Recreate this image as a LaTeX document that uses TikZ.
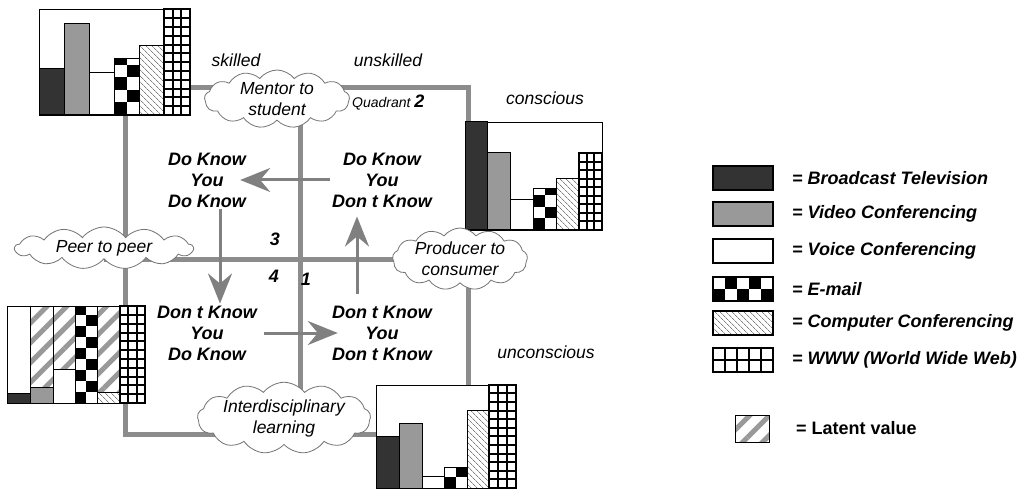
\documentclass[tikz,border=0pt]{standalone}
\usepackage{fontspec}
\setmainfont{Liberation Sans}
\usetikzlibrary{arrows.meta,shapes.symbols,patterns.meta,backgrounds}

\definecolor{axisgray}{gray}{0.55}
\definecolor{arrowgray}{gray}{0.5}
\definecolor{darkbar}{gray}{0.2}
\definecolor{midbar}{gray}{0.6}
\definecolor{cloudline}{gray}{0.45}

\newcommand{\quadfont}{\fontsize{18}{21}\selectfont\bfseries\itshape}
\newcommand{\labelfont}{\fontsize{17.5}{21}\selectfont\itshape}

\tikzset{
  axis/.style={line width=5pt, draw=axisgray},
  flow/.style={line width=3pt, draw=arrowgray, -{Stealth[length=30pt,width=24pt,inset=10pt,fill=arrowgray]}},
  bubble/.style={cloud, cloud puffs=13, cloud puff arc=105, cloud ignores aspect,
    draw=cloudline, fill=white, line width=0.8pt, inner sep=0pt, align=center, font=\labelfont},
  chartframe/.style n args={2}{draw, fill=white, line width=0.8pt, inner sep=0pt,
    minimum width=#1, minimum height=#2},
  bar/.style={draw=black, line width=1pt},
  quadtext/.style={align=center, inner sep=2pt, font=\quadfont},
  tag/.style={font=\labelfont, inner sep=1pt},
  legtext/.style={anchor=west, inner sep=0pt, font=\fontsize{18}{21}\selectfont\bfseries\itshape}
}

% bars: x1, y1 (top), x2, y2 (bottom)
\newcommand{\solidbar}[5]{\draw[bar, fill=#5] (#1,#2) rectangle (#3,#4);}
\newcommand{\hatchbar}[4]{%
  \fill[white] (#1,#2) rectangle (#3,#4);
  \fill[pattern={Lines[angle=-45,distance=4pt,line width=0.7pt]}, pattern color=gray] (#1,#2) rectangle (#3,#4);
  \draw[bar] (#1,#2) rectangle (#3,#4);}
\newcommand{\latentbar}[4]{%
  \fill[white] (#1,#2) rectangle (#3,#4);
  \fill[pattern={Lines[angle=45,distance=14pt,line width=5pt]}, pattern color=gray!80] (#1,#2) rectangle (#3,#4);
  \draw[bar] (#1,#2) rectangle (#3,#4);}
\newcommand{\checkbar}[5]{%
  \begin{scope}
    \clip (#1,#2) rectangle (#3,#4);
    \fill[white] (#1,#2) rectangle (#3,#4);
    \foreach \cc in {0,...,5}
      \foreach \rr in {0,...,12}{
        \pgfmathtruncatemacro\chk{mod(\cc+\rr,2)}
        \ifnum\chk=0
          \fill (#1+\cc*#5, #4-\rr*#5) rectangle ++(#5,-#5);
        \fi}
  \end{scope}
  \draw[bar] (#1,#2) rectangle (#3,#4);}
\newcommand{\gridbar}[6]{%
  \fill[white] (#1,#2) rectangle (#3,#4);
  \begin{scope}
    \clip (#1,#2) rectangle (#3,#4);
    \draw[line width=2pt, xstep=#5pt, ystep=#6pt, shift={(#1,#4)}] (0,0) grid (#3-#1, #2-#4);
  \end{scope}
  \draw[line width=1.5pt] (#1,#2) rectangle (#3,#4);}

\begin{document}
\begin{tikzpicture}[x=1pt, y=-1pt]
  \useasboundingbox (0,0) rectangle (1029,492);

  % rails
  \coordinate (westrail) at (125,0);
  \coordinate (eastrail) at (468,0);
  \coordinate (northrail) at (0,88);
  \coordinate (southrail) at (0,434);
  \coordinate (hub) at (300,259);

  % charts
  \node[chartframe={151pt}{106pt}] (chartTL) at (114.5,62) {};
  \solidbar{39}{69}{64}{115}{darkbar}
  \solidbar{64}{24}{89}{115}{midbar}
  \solidbar{89}{73}{114}{115}{white}
  \checkbar{114}{59}{139}{115}{12.5}
  \hatchbar{139}{46}{164}{115}
  \gridbar{164}{9}{190}{115}{8.67}{8.8}

  \node[chartframe={137pt}{108pt}] (chartTR) at (533.5,176) {};
  \solidbar{465}{122}{487.5}{230}{darkbar}
  \solidbar{487.5}{153}{510}{230}{midbar}
  \solidbar{510}{200}{533}{230}{white}
  \checkbar{533}{189}{556}{230}{11.5}
  \hatchbar{556}{179}{579}{230}
  \gridbar{579}{153}{602}{230}{7.67}{8.5}

  \node[chartframe={138pt}{97pt}] (chartBL) at (76,354.5) {};
  \solidbar{7}{306}{30}{403}{white}
  \solidbar{7}{393}{30}{403}{darkbar}
  \latentbar{30}{306}{53}{403}
  \solidbar{30}{387}{53}{403}{midbar}
  \latentbar{53}{306}{75}{369}
  \solidbar{53}{369}{75}{403}{white}
  \checkbar{75}{306}{97}{403}{11}
  \latentbar{97}{306}{120}{392}
  \hatchbar{97}{392}{120}{403}
  \gridbar{120}{306}{145}{403}{8.33}{8.8}

  \node[chartframe={140pt}{103pt}] (chartBR) at (446,436.5) {};
  \solidbar{376}{436}{399}{488}{darkbar}
  \solidbar{399}{423}{422}{488}{midbar}
  \solidbar{422}{476}{444}{488}{white}
  \checkbar{444}{467}{467}{488}{11.5}
  \hatchbar{467}{410}{489}{488}
  \gridbar{489}{385}{516}{488}{9}{8.6}

  % clouds
  \node[bubble, minimum width=145pt, minimum height=58pt] (mentor) at (277,99) {Mentor to\\student};
  \node[bubble, minimum width=178pt, minimum height=42pt] (peer) at (104,248) {Peer to peer};
  \node[bubble, minimum width=135pt, minimum height=62pt] (producer) at (460,259) {Producer to\\consumer};
  \node[bubble, minimum width=172pt, minimum height=68pt] (inter) at (284,418) {Interdisciplinary\\learning};

  \begin{scope}[on background layer]
    \draw[axis] (chartTL.east |- northrail) -- (northrail -| eastrail) -- (chartTR.north -| eastrail);
    \draw[axis] (chartTR.south -| eastrail) -- (chartBR.north -| eastrail);
    \draw[axis] (chartBR.west |- southrail) -- (southrail -| westrail) -- (chartBL.south -| westrail);
    \draw[axis] (chartBL.north -| westrail) -- (chartTL.south -| westrail);
    \draw[axis] (hub |- mentor.center) -- (hub |- inter.center);
    \draw[axis] (peer.center |- hub) -- (producer.center |- hub);
  \end{scope}

  % labels
  \node[tag] (skilled) at (236,60) {skilled};
  \node[tag] (unskilled) at (388,60) {unskilled};
  \node[tag] (conscious) at (545,98) {conscious};
  \node[tag] (unconscious) at (546,352) {unconscious};
  \node[anchor=west, inner sep=0pt] (quadrant) at (352,103)
    {\fontsize{14}{16}\selectfont\itshape Quadrant \fontsize{18}{21}\selectfont\bfseries 2};
  \node[quadtext] (num3) at (275,239) {3};
  \node[quadtext] (num4) at (274,276) {4};
  \node[quadtext] (num1) at (306,279) {1};

  % quadrants
  \node[quadtext] (qTL) at (207,180) {Do Know\\You\\Do Know};
  \node[quadtext] (qTR) at (382,180) {Do Know\\You\\Don t Know};
  \node[quadtext] (qBL) at (207,333) {Don t Know\\You\\Do Know};
  \node[quadtext] (qBR) at (382,333) {Don t Know\\You\\Don t Know};

  \draw[flow] (qTR.west) -- ([xshift=-8pt]qTL.east);
  \draw[flow] ([xshift=13pt]qTL.south) -- ([xshift=13pt]qBL.north);
  \draw[flow] ([xshift=5pt]qBL.east) -- ([xshift=8pt]qBR.west);
  \draw[flow] ([xshift=-25pt,yshift=10pt]qBR.north) -- ([xshift=-25pt,yshift=-7pt]qTR.south);

  % legend
  \begin{scope}[line width=2pt]
    \draw[fill=darkbar] (713,166) rectangle (773,190);
    \draw[fill=midbar] (713,202) rectangle (773,226);
    \draw[fill=white] (713,239) rectangle (773,263);
  \end{scope}
  \checkbar{713}{277}{773}{301}{12}
  \draw[line width=2pt] (713,277) rectangle (773,301);
  \hatchbar{713}{311}{773}{335}
  \draw[line width=1.5pt] (713,311) rectangle (773,335);
  \gridbar{713}{348}{773}{372}{12}{12}
  \draw[line width=2pt] (713,348) rectangle (773,372);
  \latentbar{735}{415}{769}{442}

  \node[legtext] (legBroadcast) at (792,178) {= Broadcast Television};
  \node[legtext] (legVideo) at (792,214) {= Video Conferencing};
  \node[legtext] (legVoice) at (792,251) {= Voice Conferencing};
  \node[legtext] (legMail) at (792,289) {= E-mail};
  \node[legtext] (legComputer) at (792,323) {= Computer Conferencing};
  \node[legtext] (legWeb) at (792,360) {= WWW (World Wide Web)};
  \node[legtext, font=\fontsize{18}{21}\selectfont\bfseries] (legLatent) at (796,428) {= Latent value};
\end{tikzpicture}
\end{document}
